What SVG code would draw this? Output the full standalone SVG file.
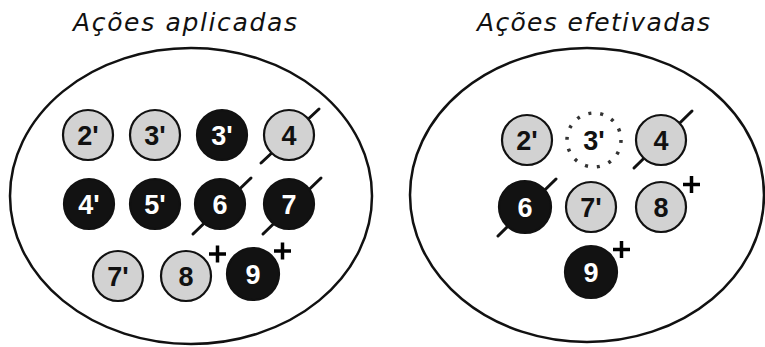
<svg xmlns="http://www.w3.org/2000/svg" width="765" height="347" viewBox="0 0 765 347">
<style>
.title{font-family:"DejaVu Sans","Liberation Sans",sans-serif;font-style:italic;font-size:25px;fill:#111}
.set{fill:none;stroke:#111;stroke-width:2.5}
.light{fill:#d2d2d2;stroke:#111;stroke-width:2.2}
.dark{fill:#121212;stroke:#111;stroke-width:2.2}
.dotted{fill:none;stroke:#333;stroke-width:3.5;stroke-dasharray:3 9.1}
.lbl{font-family:"Liberation Sans",Arial,sans-serif;font-size:27px;font-weight:bold;text-anchor:middle;fill:#111}
.lblw{font-family:"Liberation Sans",Arial,sans-serif;font-size:27px;font-weight:bold;text-anchor:middle;fill:#fff}
.slash{stroke:#111;stroke-width:3;stroke-linecap:round}
.plus{stroke:#000;stroke-width:3.5}
</style>
<g id="titles">
<text class="title" x="73" y="31" textLength="224" lengthAdjust="spacing">Ações aplicadas</text>
<text class="title" x="477" y="31" textLength="233" lengthAdjust="spacing">Ações efetivadas</text>
</g>
<g id="set-aplicadas"><ellipse class="set" cx="191" cy="196" rx="181" ry="148"/></g>
<g id="set-efetivadas"><ellipse class="set" cx="587" cy="195" rx="177" ry="147"/></g>
<g id="a-2p"><circle class="light" cx="88" cy="135" r="25"/><text class="lbl" x="88" y="145">2'</text></g>
<g id="a-3p"><circle class="light" cx="155" cy="135" r="25"/><text class="lbl" x="155" y="145">3'</text></g>
<g id="a-3pd"><circle class="dark" cx="222" cy="135" r="25"/><text class="lblw" x="222" y="145">3'</text></g>
<g id="a-4"><line class="slash" x1="261" y1="163" x2="319" y2="109"/><circle class="light" cx="289" cy="135" r="25"/><text class="lbl" x="289" y="145">4</text></g>
<g id="a-4p"><circle class="dark" cx="89" cy="204" r="25"/><text class="lblw" x="89" y="214">4'</text></g>
<g id="a-5p"><circle class="dark" cx="155" cy="204" r="25"/><text class="lblw" x="155" y="214">5'</text></g>
<g id="a-6"><line class="slash" x1="193" y1="234" x2="251" y2="178"/><circle class="dark" cx="220" cy="204" r="25"/><text class="lblw" x="220" y="214">6</text></g>
<g id="a-7"><line class="slash" x1="263" y1="234" x2="321" y2="178"/><circle class="dark" cx="289" cy="204" r="25"/><text class="lblw" x="289" y="214">7</text></g>
<g id="a-7p"><circle class="light" cx="118" cy="276" r="25"/><text class="lbl" x="118" y="286">7'</text></g>
<g id="a-8"><circle class="light" cx="186" cy="276" r="25"/><text class="lbl" x="186" y="286">8</text><path class="plus" d="M209 254h17M217.5 245.5v17"/></g>
<g id="a-9"><circle class="dark" cx="253" cy="274" r="26"/><text class="lblw" x="253" y="284">9</text><path class="plus" d="M274 251h17M282.5 242.5v17"/></g>
<g id="e-2p"><circle class="light" cx="527" cy="140" r="25"/><text class="lbl" x="527" y="150">2'</text></g>
<g id="e-3p"><circle class="dotted" cx="594" cy="140" r="27"/><text class="lbl" x="594" y="150">3'</text></g>
<g id="e-4"><line class="slash" x1="634" y1="168" x2="692" y2="111"/><circle class="light" cx="661" cy="140" r="25"/><text class="lbl" x="661" y="150">4</text></g>
<g id="e-6"><line class="slash" x1="498" y1="236" x2="556" y2="179"/><circle class="dark" cx="525" cy="207" r="26"/><text class="lblw" x="525" y="217">6</text></g>
<g id="e-7p"><circle class="light" cx="591" cy="207" r="25"/><text class="lbl" x="591" y="217">7'</text></g>
<g id="e-8"><circle class="light" cx="661" cy="207" r="25"/><text class="lbl" x="661" y="217">8</text><path class="plus" d="M683 184.5h17M691.5 176v17"/></g>
<g id="e-9"><circle class="dark" cx="591" cy="272" r="26"/><text class="lblw" x="591" y="282">9</text><path class="plus" d="M613 249.5h17M621.5 241v17"/></g>
</svg>
